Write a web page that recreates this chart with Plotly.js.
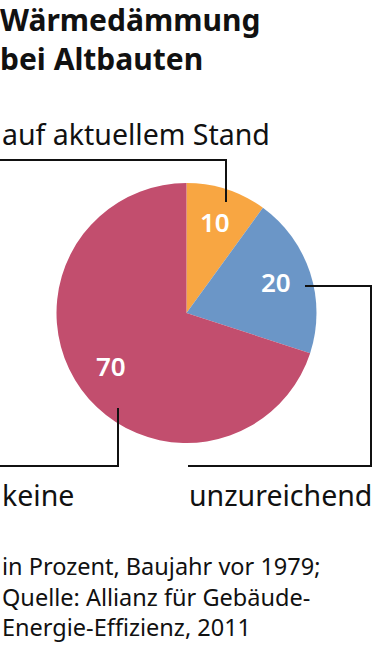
<!DOCTYPE html>
<html>
<head>
<meta charset="utf-8">
<script src="https://cdn.plot.ly/plotly-3.0.1.min.js"></script>
<style>
  html, body { margin: 0; padding: 0; background: #fff; }
  #chart { width: 372px; height: 649px; }
</style>
</head>
<body>
<div id="chart"></div>
<script>
// ---- data ----
const categories = ['auf aktuellem Stand', 'unzureichend', 'keine'];
const values = [10, 20, 70];
const colors = ['#F8A642', '#6B96C7', '#C24E6E'];
const titleLines = ['Wärmedämmung', 'bei Altbauten'];
const noteLines = ['in Prozent, Baujahr vor 1979;', 'Quelle: Allianz für Gebäude-', 'Energie-Effizienz, 2011'];

// ---- layout helpers (pixel -> paper) ----
const W = 372, H = 649;
const px = x => x / W;
const py = y => 1 - y / H;
const cx = 186.5, cy = 313, R = 130;

const FONT = '"Noto Sans", "DejaVu Sans", sans-serif';

// value labels at mid-angle of each slice
const total = values.reduce((a, b) => a + b, 0);
let cum = 0;
const valueAnns = values.map((v, i) => {
  const mid = (cum + v / 2) / total * 2 * Math.PI;
  cum += v;
  const r = 0.72 * R;
  return {
    text: String(v), showarrow: false, xref: 'paper', yref: 'paper',
    x: px(cx + r * Math.sin(mid)), y: py(cy - r * Math.cos(mid) - 2),
    xanchor: 'center', yanchor: 'middle',
    font: { family: FONT, size: 26, color: '#ffffff', weight: 600 }
  };
});

function pathOf(pts) {
  return pts.map((p, i) => (i ? 'L' : 'M') + px(p[0]) + ',' + py(p[1])).join(' ');
}
const lineStyle = { color: '#111111', width: 2 };
const shapes = [
  { type: 'path', xref: 'paper', yref: 'paper', path: pathOf([[0, 160], [226, 160], [226, 202]]), line: lineStyle },
  { type: 'path', xref: 'paper', yref: 'paper', path: pathOf([[305, 286], [371, 286], [371, 466], [188, 466]]), line: lineStyle },
  { type: 'path', xref: 'paper', yref: 'paper', path: pathOf([[118, 408], [118, 466], [0, 466]]), line: lineStyle }
];

const labelFont = { family: FONT, size: 28.5, color: '#111111' };
const catAnns = [
  { text: categories[0], x: px(0), y: py(134), xanchor: 'left' },
  { text: categories[1], x: px(187), y: py(495), xanchor: 'left' },
  { text: categories[2], x: px(0), y: py(495), xanchor: 'left' }
].map(a => Object.assign({ showarrow: false, xref: 'paper', yref: 'paper', yanchor: 'middle', font: labelFont }, a));

const noteAnn = {
  text: noteLines.join('<br>'), showarrow: false, xref: 'paper', yref: 'paper',
  x: px(0), y: py(548), xanchor: 'left', yanchor: 'top', align: 'left',
  font: { family: FONT, size: 23.5, color: '#111111' }
};

const data = [{
  type: 'pie',
  labels: categories,
  values: values,
  sort: false,
  direction: 'clockwise',
  rotation: 0,
  textinfo: 'none',
  hoverinfo: 'none',
  marker: { colors: colors, line: { width: 0 } },
  domain: { x: [px(cx - R), px(cx + R)], y: [py(cy + R), py(cy - R)] },
  showlegend: false
}];

const layout = {
  width: W, height: H,
  margin: { l: 0, r: 0, t: 0, b: 0 },
  paper_bgcolor: '#ffffff', plot_bgcolor: '#ffffff',
  showlegend: false,
  title: {
    text: '<b>' + titleLines.join('<br>') + '</b>',
    x: 0, xref: 'paper', xanchor: 'left',
    y: 1 - 31 / H, yref: 'container', yanchor: 'top',
    font: { family: FONT, size: 30, color: '#111111' }
  },
  shapes: shapes,
  annotations: valueAnns.concat(catAnns, [noteAnn])
};

Plotly.newPlot('chart', data, layout, { displayModeBar: false, staticPlot: true });
</script>
</body>
</html>
